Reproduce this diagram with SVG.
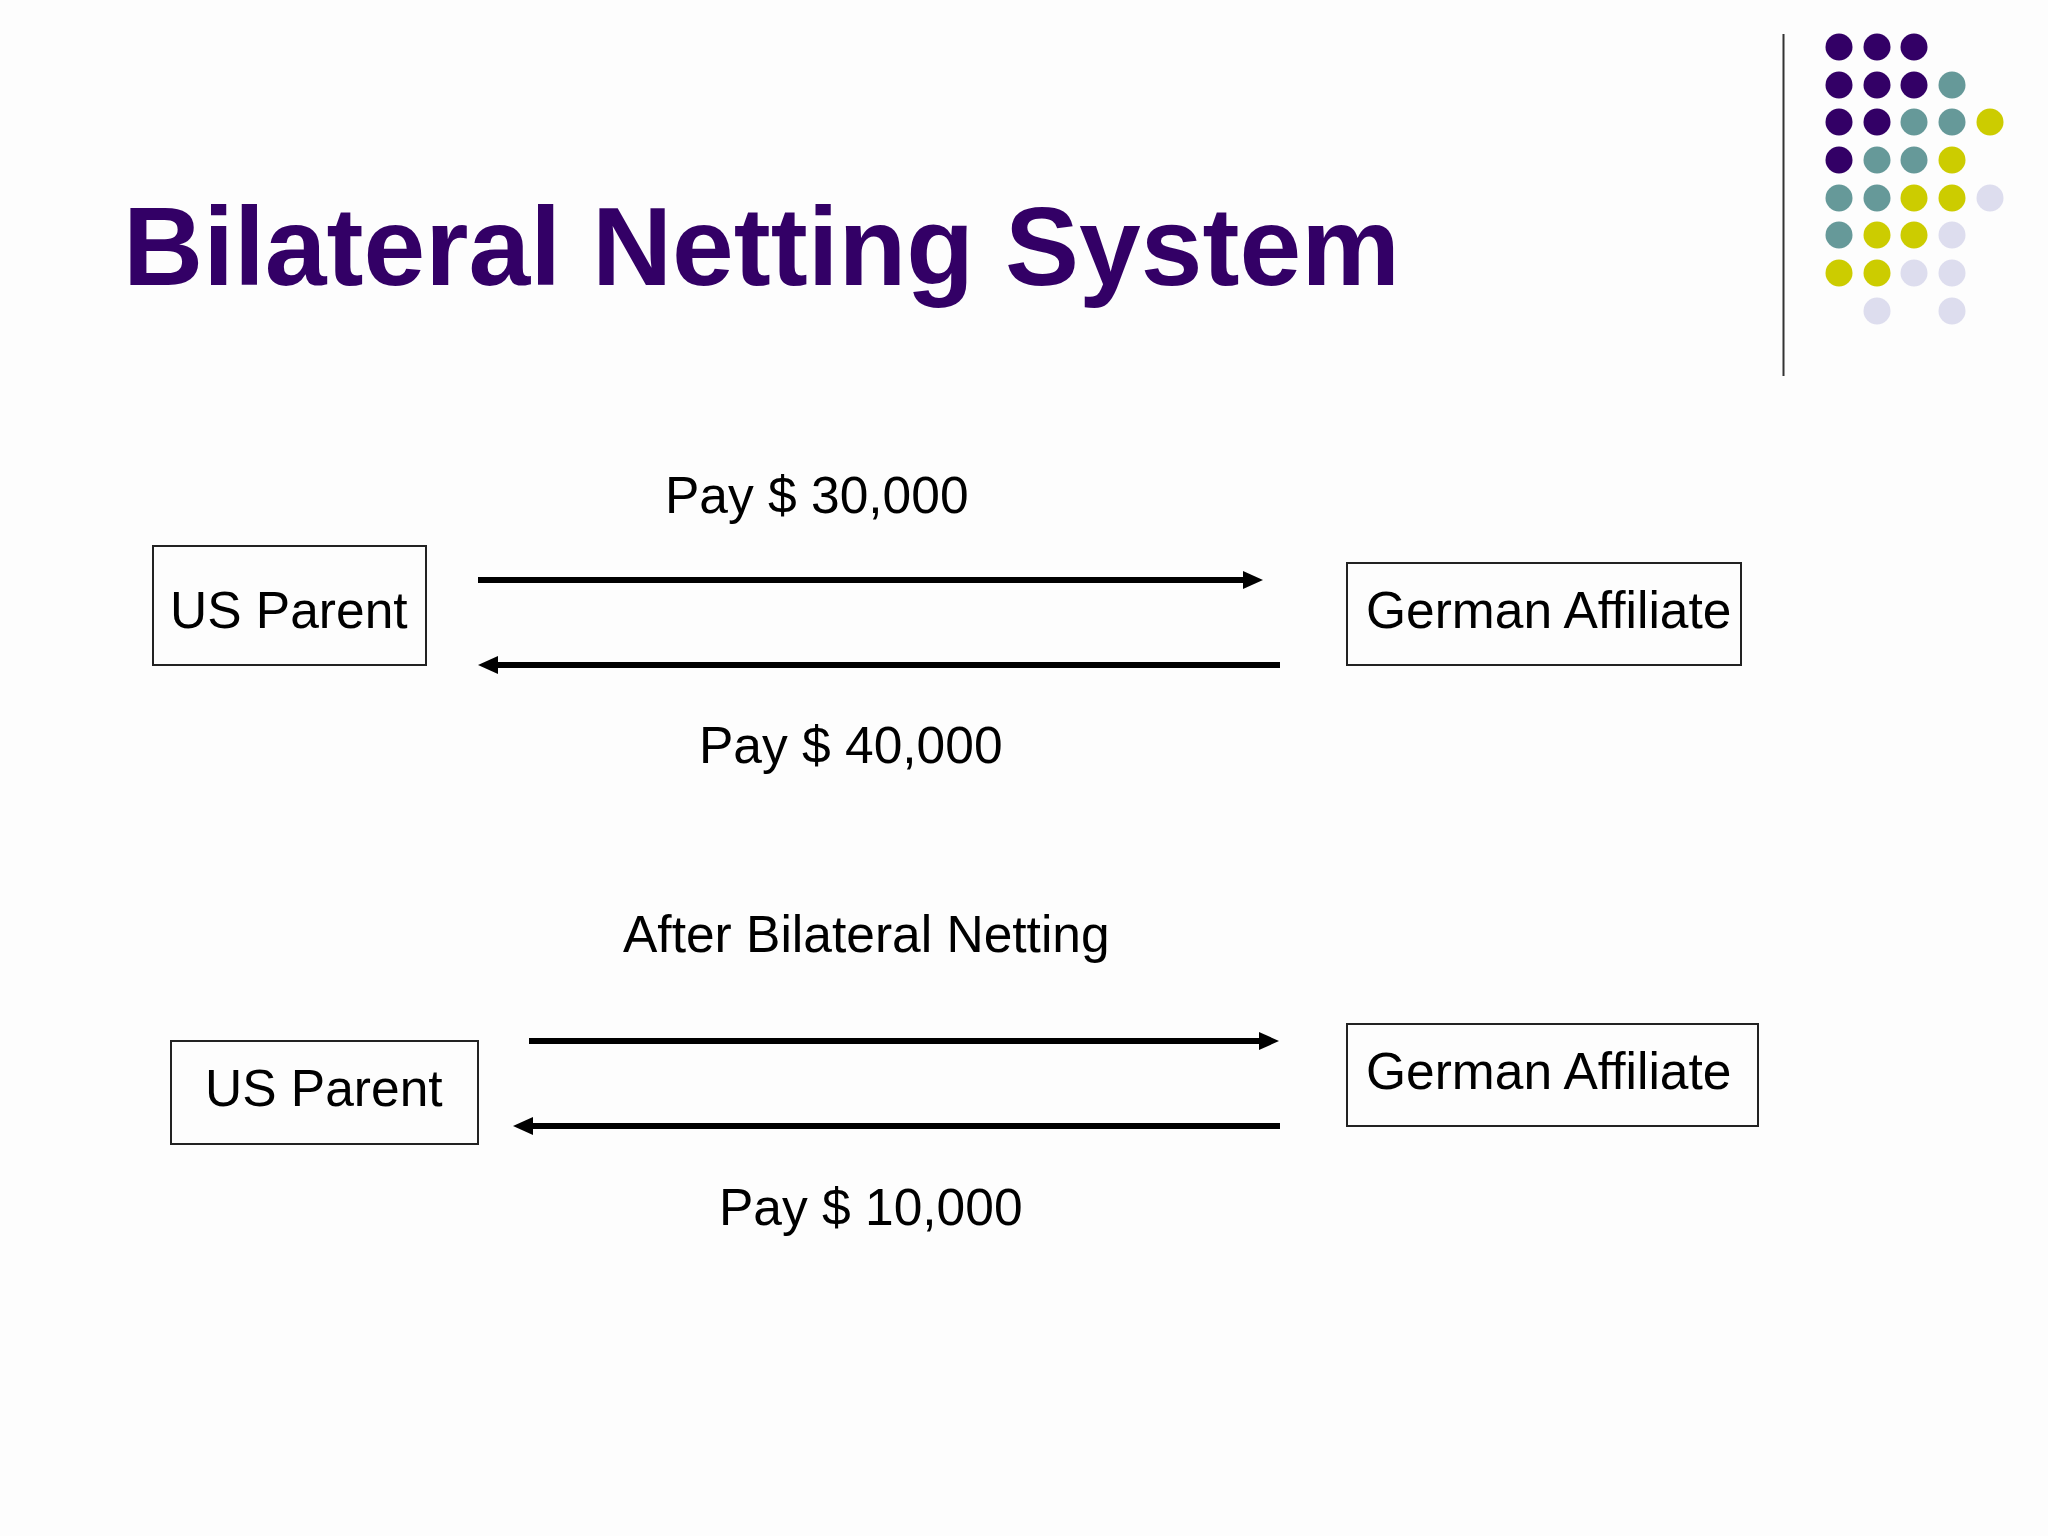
<svg xmlns="http://www.w3.org/2000/svg" width="2048" height="1536" viewBox="0 0 2048 1536">
<style>
.t{font-family:"Liberation Sans",Arial,sans-serif;font-size:51.5px;fill:#000}
.box{fill:none;stroke:#222;stroke-width:2}
.arr{stroke:#000;stroke-width:6;fill:none;marker-end:url(#ah)}
.p{fill:#330066}.g{fill:#669999}.y{fill:#CCCC00}.l{fill:#DDDDEE}
</style>
<defs>
<marker id="ah" viewBox="0 0 20 18" refX="1" refY="9" markerWidth="20" markerHeight="18" markerUnits="userSpaceOnUse" orient="auto">
<path d="M0,0 L20,9 L0,18 z" fill="#000"/>
</marker>
</defs>
<rect width="2048" height="1536" fill="#FDFDFD"/>
<g id="decor">
<line x1="1783.5" y1="34" x2="1783.5" y2="376" stroke="#333" stroke-width="2"/>
<g id="dots">
<circle class="p" cx="1839" cy="47" r="13.5"/><circle class="p" cx="1877" cy="47" r="13.5"/><circle class="p" cx="1914" cy="47" r="13.5"/>
<circle class="p" cx="1839" cy="85" r="13.5"/><circle class="p" cx="1877" cy="85" r="13.5"/><circle class="p" cx="1914" cy="85" r="13.5"/><circle class="g" cx="1952" cy="85" r="13.5"/>
<circle class="p" cx="1839" cy="122" r="13.5"/><circle class="p" cx="1877" cy="122" r="13.5"/><circle class="g" cx="1914" cy="122" r="13.5"/><circle class="g" cx="1952" cy="122" r="13.5"/><circle class="y" cx="1990" cy="122" r="13.5"/>
<circle class="p" cx="1839" cy="160" r="13.5"/><circle class="g" cx="1877" cy="160" r="13.5"/><circle class="g" cx="1914" cy="160" r="13.5"/><circle class="y" cx="1952" cy="160" r="13.5"/>
<circle class="g" cx="1839" cy="198" r="13.5"/><circle class="g" cx="1877" cy="198" r="13.5"/><circle class="y" cx="1914" cy="198" r="13.5"/><circle class="y" cx="1952" cy="198" r="13.5"/><circle class="l" cx="1990" cy="198" r="13.5"/>
<circle class="g" cx="1839" cy="235" r="13.5"/><circle class="y" cx="1877" cy="235" r="13.5"/><circle class="y" cx="1914" cy="235" r="13.5"/><circle class="l" cx="1952" cy="235" r="13.5"/>
<circle class="y" cx="1839" cy="273" r="13.5"/><circle class="y" cx="1877" cy="273" r="13.5"/><circle class="l" cx="1914" cy="273" r="13.5"/><circle class="l" cx="1952" cy="273" r="13.5"/>
<circle class="l" cx="1877" cy="311" r="13.5"/><circle class="l" cx="1952" cy="311" r="13.5"/>
</g>
</g>
<text id="title" x="123" y="285" font-family="Liberation Sans, Arial, sans-serif" font-weight="bold" font-size="111" fill="#330066">Bilateral Netting System</text>
<g id="connectors">
<line class="arr" x1="478" y1="580" x2="1244" y2="580"/>
<line class="arr" x1="1280" y1="665" x2="497" y2="665"/>
<line class="arr" x1="529" y1="1041" x2="1260" y2="1041"/>
<line class="arr" x1="1280" y1="1126" x2="532" y2="1126"/>
</g>
<g id="labels">
<text class="t" x="665" y="513">Pay $ 30,000</text>
<text class="t" x="699" y="763">Pay $ 40,000</text>
<text class="t" x="623" y="952" font-size="52">After Bilateral Netting</text>
<text class="t" x="719" y="1225">Pay $ 10,000</text>
</g>
<g id="us-parent-1">
<rect class="box" x="153" y="546" width="273" height="119"/>
<text class="t" x="170" y="628">US Parent</text>
</g>
<g id="german-affiliate-1">
<rect class="box" x="1347" y="563" width="394" height="102"/>
<text class="t" x="1366" y="628">German Affiliate</text>
</g>
<g id="us-parent-2">
<rect class="box" x="171" y="1041" width="307" height="103"/>
<text class="t" x="205" y="1106">US Parent</text>
</g>
<g id="german-affiliate-2">
<rect class="box" x="1347" y="1024" width="411" height="102"/>
<text class="t" x="1366" y="1089">German Affiliate</text>
</g>
</svg>
